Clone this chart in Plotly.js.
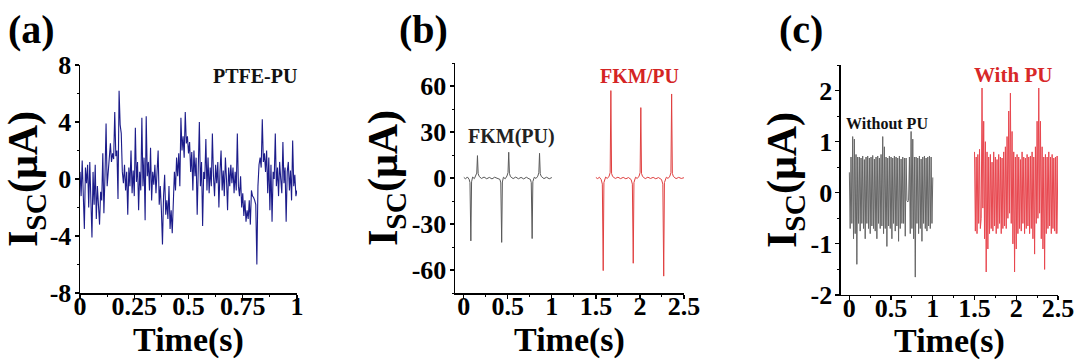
<!DOCTYPE html>
<html><head><meta charset="utf-8">
<script src="https://cdn.plot.ly/plotly-3.0.1.min.js"></script>
<style>html,body{margin:0;padding:0;background:#fff}#chart{width:1080px;height:360px}</style>
</head><body><div id="chart"></div>
<script>
// ---- Panel (a): PTFE-PU, sampled every 5 ms from 0 to 1 s ----
const sampleStepA = 0.005;
const currentA = [
 0.5,-1.2,1.3,-0.8,-3.5,0.8,-0.3,1.0,-2.0,1.2,-1.5,-4.1,0.5,-1.8,1.0,-2.8,-0.5,-1.6,-3.2,-0.9,
 -1.5,1.8,-2.4,0.2,3.9,-0.5,1.0,1.5,2.5,1.2,1.8,1.4,4.7,1.6,2.0,-1.4,6.2,3.8,3.2,0.5,
 -0.3,1.0,-0.8,0.5,-2.5,0.8,-0.5,2.0,-1.0,0.6,-1.2,3.6,-0.2,1.2,-2.2,0.5,-0.8,4.3,-0.5,1.5,
 -2.9,4.4,0.2,1.2,-0.8,2.2,-1.5,0.5,-0.4,1.0,-1.0,0.3,2.0,-1.8,-0.5,-2.2,-4.6,-1.2,0.3,-2.5,
 -1.5,-2.8,-0.5,-3.5,-2.2,-3.8,-1.0,0.5,-0.8,1.5,0.2,1.8,-0.5,4.3,2.0,3.0,1.5,4.7,2.5,3.0,
 1.8,2.6,0.5,1.9,-0.8,2.0,0.2,1.5,-2.5,0.8,4.0,-0.5,1.2,-3.3,0.5,0.0,2.8,-0.8,1.5,-1.0,
 0.8,-0.5,3.2,0.2,-1.2,1.0,-0.3,1.2,-2.0,0.5,2.0,-0.8,0.6,-1.2,1.5,0.0,-2.2,0.8,-0.5,1.0,
 -0.3,0.8,-1.0,0.5,-0.8,3.2,-0.5,-1.2,0.2,-2.0,-1.0,-2.6,-1.5,-3.0,-2.2,-2.8,-1.5,-3.2,-0.8,-1.2,
 -1.3,-1.5,-1.8,-6.0,-0.5,1.0,1.5,0.8,4.2,1.2,1.8,0.5,2.0,-1.0,1.5,-2.2,1.0,-3.0,0.5,0.0,
 3.2,-0.5,0.8,-1.2,1.2,0.0,-1.0,2.6,-0.3,0.8,-3.0,0.5,1.2,-0.8,0.6,-1.5,2.7,-0.5,0.3,-1.2,-0.8
];
const timeA = currentA.map((_, i) => +(i * sampleStepA).toFixed(3));

// ---- Panel (b): FKM(PU) (gray) and FKM/PU (red) ----
const timeB_gray = [0,0.02,0.04,0.06,0.07,0.08,0.088,0.10,0.12,0.135,
 0.147,0.155,0.163,0.175,0.20,0.23,0.26,0.29,0.32,0.35,
 0.38,0.41,0.42,0.43,0.438,0.45,0.47,0.49,0.502,0.51,
 0.518,0.53,0.56,0.59,0.62,0.65,0.68,0.71,0.74,0.756,
 0.766,0.776,0.784,0.80,0.82,0.84,0.852,0.86,0.868,0.88,
 0.91,0.94,0.97,1.0];
const currentB_gray = [0.4,-0.6,0.7,-0.8,-3.0,-41,-2.5,0.6,-0.4,1.2,
 3.2,14.6,2.8,1.0,-0.3,0.6,-0.5,0.4,-0.6,0.5,
 -0.4,-0.9,-3.2,-42,-2.6,0.5,-0.5,1.3,3.5,16.8,
 3.0,0.9,-0.4,0.6,-0.5,0.4,-0.6,0.5,-0.5,-0.9,
 -3.0,-39.5,-2.4,0.5,-0.3,1.2,3.4,16.1,2.8,1.0,
 -0.4,0.5,-0.5,0.3];
const timeB_red = [1.50,1.52,1.54,1.56,1.573,1.583,1.591,1.61,1.63,1.65,
 1.662,1.670,1.678,1.69,1.72,1.75,1.78,1.81,1.84,1.87,
 1.90,1.914,1.924,1.932,1.95,1.97,1.99,2.002,2.010,2.018,
 2.03,2.06,2.09,2.12,2.15,2.18,2.21,2.245,2.26,2.27,
 2.278,2.30,2.32,2.34,2.352,2.36,2.368,2.38,2.41,2.44,
 2.47,2.50];
const currentB_red = [0.3,-0.4,0.5,-1.0,-4.0,-60.4,-3.0,0.6,-0.3,1.2,
 3.5,57,3.0,1.0,-0.3,0.5,-0.4,0.4,-0.5,0.3,
 -1.0,-4.0,-55.6,-3.0,0.5,-0.3,1.2,3.5,45.9,3.0,
 1.0,-0.4,0.5,-0.3,0.4,-0.5,0.3,-1.0,-4.0,-64,
 -3.0,0.5,-0.3,1.2,3.5,54.8,3.0,1.0,-0.4,0.4,
 -0.3,0.2];

// ---- Panel (c): Without PU (gray, 0-1 s) and With PU (red, 1.5-2.5 s), 10 ms step ----
const sampleStepC = 0.01;
const startC_gray = 0, startC_red = 1.5;
const currentC_gray = [
 0.4,-0.7,0.7,-0.6,1.1,-0.9,1.05,-0.8,0.75,-1.4,
 0.7,-0.6,0.7,-0.75,0.68,-0.6,0.72,-0.7,0.65,-0.9,
 0.7,-0.6,0.72,-0.7,0.68,-0.8,0.7,-0.65,0.73,-0.7,
 0.66,-0.75,0.7,-0.9,0.72,-0.6,0.68,-0.7,0.75,-0.65,
 1.1,-0.8,0.9,-0.7,0.7,-1.05,0.68,-0.65,0.72,-0.7,
 0.7,-0.9,0.68,-0.6,0.72,-0.75,0.7,-0.65,0.68,-0.95,
 0.72,-0.7,0.66,-0.6,0.7,-0.6,0.68,-0.85,0.68,-0.15,
 -0.18,-0.15,0.7,-0.8,1.2,-0.7,1.05,-0.9,0.7,-1.65,
 0.7,-0.6,0.68,-0.8,0.72,-0.7,0.66,-0.95,0.7,-0.6,
 0.72,-0.7,0.68,-0.75,0.7,-0.65,0.72,-0.7,0.7,-0.6,
 0.3
];
const currentC_red = [
 0.8,-0.75,0.7,-0.8,0.75,-0.6,0.85,-0.7,-0.5,2.05,
 -0.3,1.4,-0.9,1.0,-1.55,0.8,-1.1,0.7,-0.8,0.75,
 -0.7,0.6,-0.75,0.8,-0.65,0.7,-0.8,0.65,-0.7,0.75,
 -0.6,0.7,-0.8,0.68,-0.7,0.8,-0.65,0.9,-0.7,1.1,
 -0.5,1.6,-0.4,1.95,-0.6,1.2,-1.0,0.8,-1.55,0.7,
 -1.1,0.75,-0.8,0.7,-0.7,0.65,-0.75,0.8,-0.6,0.7,
 -0.8,0.68,-0.7,0.75,-0.65,0.7,-0.8,0.72,-0.7,0.8,
 -0.9,0.7,-1.2,0.9,-0.6,1.4,-0.5,2.05,-0.4,1.4,
 -0.9,0.9,-1.1,0.7,-1.5,0.75,-0.8,0.7,-0.7,0.8,
 -0.65,0.7,-0.8,0.75,-0.7,0.68,-0.75,0.7,-0.8,0.72,
 -0.8
];
const timeC_gray = currentC_gray.map((_, i) => +(startC_gray + i * sampleStepC).toFixed(3));
const timeC_red = currentC_red.map((_, i) => +(startC_red + i * sampleStepC).toFixed(3));

// tick labels
const ticksA_x = [0, 0.25, 0.5, 0.75, 1];
const ticksA_y = [-8, -4, 0, 4, 8];
const ticksB_x = [0, 0.5, 1, 1.5, 2, 2.5];
const ticksB_y = [-60, -30, 0, 30, 60];
const ticksC_y = [-2, -1, 0, 1, 2];

const FONT = 'Liberation Serif, Times New Roman, serif';
const tickFont = {family: FONT, size: 26, color: '#000', weight: 'bold'};
const xTitleFont = {family: FONT, size: 34, color: '#000', weight: 'bold'};
const yTitleFont = {family: FONT, size: 42, color: '#000', weight: 'bold'};

function xAxis(dom, range, ticks, anchor, minorDt) {
  return {domain: dom, range: range, anchor: anchor, tickvals: ticks,
    ticktext: ticks.map(String), showline: true, linecolor: '#000', linewidth: 1.5,
    mirror: false, ticks: 'outside', ticklen: 4, tickwidth: 1.2, tickcolor: '#000',
    ticklabelstandoff: -15,
    minor: {dtick: minorDt, ticks: 'outside', ticklen: 2, tickcolor: '#000', tickwidth: 1},
    showgrid: false, zeroline: false, tickfont: tickFont, automargin: false,
    title: {text: 'Time(s)', font: xTitleFont, standoff: 0}};
}
function yAxis(dom, range, ticks, anchor, minorDt) {
  return {domain: dom, range: range, anchor: anchor, tickvals: ticks,
    ticktext: ticks.map(String), showline: true, linecolor: '#000', linewidth: 1.5,
    mirror: false, ticks: 'outside', ticklen: 4, tickwidth: 1.2, tickcolor: '#000',
    ticklabelstandoff: -2,
    minor: {dtick: minorDt, ticks: 'outside', ticklen: 2, tickcolor: '#000', tickwidth: 1},
    showgrid: false, zeroline: false, tickfont: tickFont, automargin: false,
    title: {text: 'I<sub>SC</sub>(μA)', font: yTitleFont, standoff: 0}};
}

const traces = [
  {x: timeA, y: currentA, xaxis: 'x', yaxis: 'y', type: 'scatter', mode: 'lines',
   line: {color: '#1c1c8a', width: 1.1}, hoverinfo: 'skip'},
  {x: timeB_gray, y: currentB_gray, xaxis: 'x2', yaxis: 'y2', type: 'scatter', mode: 'lines',
   line: {color: '#5a5a5a', width: 1}},
  {x: timeB_red, y: currentB_red, xaxis: 'x2', yaxis: 'y2', type: 'scatter', mode: 'lines',
   line: {color: '#e04040', width: 1}},
  {x: timeC_gray, y: currentC_gray, xaxis: 'x3', yaxis: 'y3', type: 'scatter', mode: 'lines',
   line: {color: '#666666', width: 1}},
  {x: timeC_red, y: currentC_red, xaxis: 'x3', yaxis: 'y3', type: 'scatter', mode: 'lines',
   line: {color: '#e8474f', width: 1}}
];

const panelFont = {family: FONT, size: 40, color: '#000', weight: 'bold'};
const layout = {
  width: 1080, height: 360, showlegend: false,
  paper_bgcolor: '#fff', plot_bgcolor: '#fff',
  margin: {l: 0, r: 0, t: 0, b: 0},
  xaxis: xAxis([0.0741, 0.2750], [0, 1], ticksA_x, 'y', 0.125),
  yaxis: yAxis([0.1861, 0.8194], [-8, 8], ticksA_y, 'x', 2),
  xaxis2: xAxis([0.4213, 0.6333], [-0.1, 2.5], ticksB_x, 'y2', 0.25),
  yaxis2: yAxis([0.1861, 0.8250], [-75, 75], ticksB_y, 'x2', 15),
  xaxis3: xAxis([0.7787, 0.9796], [-0.1, 2.5], ticksB_x, 'y3', 0.25),
  yaxis3: yAxis([0.1806, 0.8194], [-2, 2.5], ticksC_y, 'x3', 0.5),
  annotations: [
    {text: '(a)', xref: 'paper', yref: 'paper', x: 0.006, y: 0.917, xanchor: 'left', yanchor: 'middle', showarrow: false, font: panelFont},
    {text: '(b)', xref: 'paper', yref: 'paper', x: 0.368, y: 0.917, xanchor: 'left', yanchor: 'middle', showarrow: false, font: panelFont},
    {text: '(c)', xref: 'paper', yref: 'paper', x: 0.719, y: 0.917, xanchor: 'left', yanchor: 'middle', showarrow: false, font: panelFont},
    {text: 'PTFE-PU', xref: 'paper', yref: 'paper', x: 0.2769, y: 0.789, xanchor: 'right', yanchor: 'middle', showarrow: false,
     font: {family: FONT, size: 20, color: '#111', weight: 'bold'}},
    {text: 'FKM(PU)', xref: 'paper', yref: 'paper', x: 0.4315, y: 0.622, xanchor: 'left', yanchor: 'middle', showarrow: false,
     font: {family: FONT, size: 20, color: '#222', weight: 'bold'}},
    {text: 'FKM/PU', xref: 'paper', yref: 'paper', x: 0.5535, y: 0.789, xanchor: 'left', yanchor: 'middle', showarrow: false,
     font: {family: FONT, size: 20, color: '#d42424', weight: 'bold'}},
    {text: 'Without PU', xref: 'paper', yref: 'paper', x: 0.7815, y: 0.656, xanchor: 'left', yanchor: 'middle', showarrow: false,
     font: {family: FONT, size: 16, color: '#111', weight: 'bold'}},
    {text: 'With PU', xref: 'paper', yref: 'paper', x: 0.9, y: 0.792, xanchor: 'left', yanchor: 'middle', showarrow: false,
     font: {family: FONT, size: 21, color: '#d82828', weight: 'bold'}}
  ]
};

Plotly.newPlot('chart', traces, layout, {displayModeBar: false, staticPlot: true});
</script>
</body></html>
